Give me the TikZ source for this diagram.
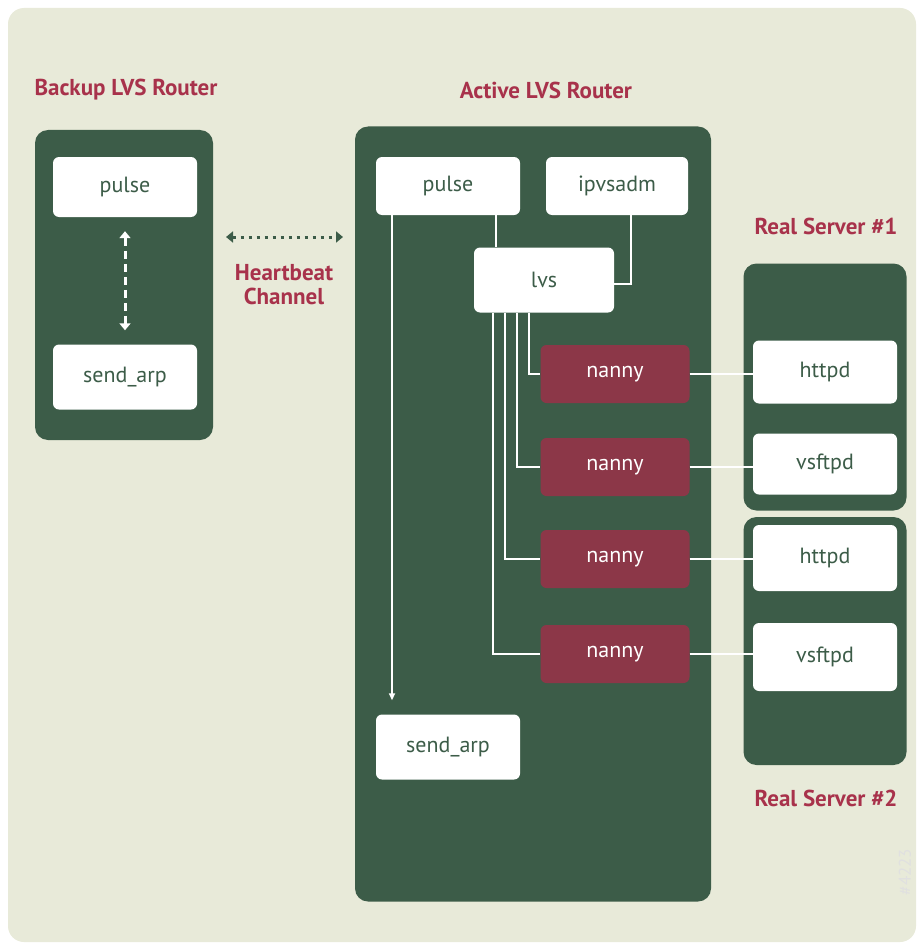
\documentclass[tikz,border=0pt]{standalone}
\usepackage{fontspec}
\setmainfont{PT Sans}
\usepackage{tikz}
\usetikzlibrary{positioning,arrows.meta}

\definecolor{lvsgreen}{HTML}{3C5C48}
\definecolor{lvsred}{HTML}{8C3748}
\definecolor{lvstitle}{HTML}{A8324B}
\definecolor{lvsbg}{HTML}{E8EAD9}

\begin{document}
\begin{tikzpicture}[
  x=1pt,y=-1pt,
  font=\fontsize{22}{25}\selectfont,
  frame/.style={fill=lvsgreen,rounded corners=13pt,inner sep=0pt},
  proc/.style={fill=white,rounded corners=6pt,text=lvsgreen,align=center,minimum width=144pt,minimum height=60pt,inner sep=0pt},
  nannybox/.style={proc,fill=lvsred,text=white,minimum width=149pt,minimum height=58pt},
  title/.style={text=lvstitle,align=center,font=\fontsize{23}{24}\selectfont\bfseries},
  link/.style={white,line width=1.6pt},
  hb/.style={{Triangle[length=7pt,width=11pt]}-{Triangle[length=7pt,width=11pt]},line width=3pt},
]
\useasboundingbox (0,0) rectangle (922,947);
\fill[white] (0,0) rectangle (922,947);
\fill[lvsbg,rounded corners=16pt] (8,8) rectangle (916,942);

%% backup router
\node[frame,minimum width=178pt,minimum height=310pt] (backup) at (124,285) {};
\node[title] (bktitle) at (126,90) {Backup LVS Router};
\node[proc] (bkpulse) at (125,187) {pulse};
\node[proc,minimum height=65pt] (bkarp) at (125,377) {send\_arp};
\draw[hb,white,dash pattern=on 8pt off 5pt] ([yshift=-14pt]bkpulse.south) -- ([yshift=14pt]bkarp.north);

%% heartbeat
\coordinate (hbl) at (226,237);
\coordinate (hbr) at (343,237);
\draw[hb,lvsgreen,dash pattern=on 3pt off 5pt] (hbl) -- (hbr);
\node[title] (hbtitle) at (284,285) {Heartbeat\\Channel};

%% active router
\node[frame,minimum width=356pt,minimum height=775pt] (active) at (533,514) {};
\node[title] (acttitle) at (546,90) {Active LVS Router};
\node[proc,minimum height=58pt] (pulse) at (448,186) {pulse};
\node[proc,minimum width=142pt,minimum height=58pt] (ipvsadm) at (617,186) {ipvsadm};
\node[proc,minimum width=140pt,minimum height=65pt] (lvs) at (544,280) {lvs};
\node[proc,minimum height=65pt] (arp) at (448,747) {send\_arp};
\node[nannybox] (nanny1) at (615,374) {nanny};
\node[nannybox] (nanny2) at (615,467) {nanny};
\node[nannybox] (nanny3) at (615,559) {nanny};
\node[nannybox] (nanny4) at (615,654) {nanny};

%% real servers
\node[frame,minimum width=163pt,minimum height=247pt] (rs1) at (825,387) {};
\node[frame,minimum width=163pt,minimum height=248pt] (rs2) at (825,641) {};
\node[title] (rs1title) at (826,226) {Real Server \#1};
\node[title] (rs2title) at (826,798) {Real Server \#2};
\node[proc,minimum height=63pt] (httpd1) at (825,372) {httpd};
\node[proc,minimum height=61pt] (vsftpd1) at (825,464) {vsftpd};
\node[proc,minimum height=66pt] (httpd2) at (825,558) {httpd};
\node[proc,minimum height=68pt] (vsftpd2) at (825,657) {vsftpd};

%% connectors
\draw[link,-{Triangle[length=7pt,width=6pt]},shorten >=14pt] ([xshift=-56pt]pulse.south) -- ([xshift=-56pt]arp.north);
\draw[link] ([xshift=48pt]pulse.south) -- ([xshift=48pt]pulse.south |- lvs.north);
\draw[link] ([xshift=14pt]ipvsadm.south) |- ([yshift=-4pt]lvs.east);
\foreach \n/\dx in {1/-15,2/-27,3/-39,4/-51}
  \draw[link] ([xshift=\dx pt]lvs.south) |- (nanny\n.west);
\draw[link] (nanny1.east) -- (nanny1.east -| httpd1.west);
\draw[link] (nanny2.east) -- (nanny2.east -| vsftpd1.west);
\draw[link] (nanny3.east) -- (nanny3.east -| httpd2.west);
\draw[link] (nanny4.east) -- (nanny4.east -| vsftpd2.west);

\node[rotate=90,text=black!12,font=\fontsize{17}{20}\selectfont] (fignum) at (905,872) {\#4223};
\end{tikzpicture}
\end{document}
